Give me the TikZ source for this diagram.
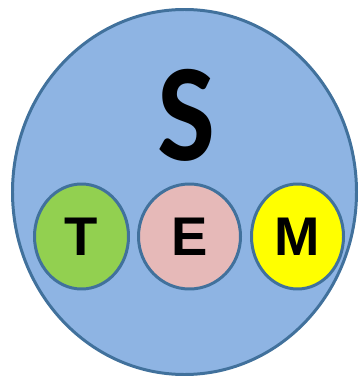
\documentclass[tikz,border=0pt]{standalone}
\usepackage{fontspec}
\newfontfamily\stemfont{Carlito}
\newfontfamily\letterfont{Liberation Sans}
\usetikzlibrary{shapes.geometric}

\definecolor{outerfill}{HTML}{8EB4E3}
\definecolor{rimblue}{HTML}{41719C}
\definecolor{techgreen}{HTML}{92D050}
\definecolor{engpink}{HTML}{E6B9B8}
\definecolor{mathyellow}{HTML}{FFFF00}

\begin{document}
\begin{tikzpicture}[x=0.02cm, y=-0.02cm]
    \useasboundingbox (0,0) rectangle (360,378);

    % Draw nodes
    \node[ellipse, draw=rimblue, line width=1.7pt, fill=outerfill, minimum width=344*0.02cm, minimum height=365*0.02cm] (outer) at (184.5,192) {};
    \node[font=\stemfont\bfseries\fontsize{72}{72}\selectfont, inner sep=0pt] (s) at (186,115) {\scalebox{0.97}[1.1]{S}};

    \node[ellipse, draw=rimblue, line width=1.7pt, fill=techgreen, minimum width=94*0.02cm, minimum height=105*0.02cm, font=\letterfont\bfseries\fontsize{31}{31}\selectfont] (t) at (81.5,236.5) {T};
    \node[ellipse, draw=rimblue, line width=1.7pt, fill=engpink, minimum width=102*0.02cm, minimum height=105*0.02cm, font=\letterfont\bfseries\fontsize{31}{31}\selectfont] (e) at (189.5,236.5) {E};
    \node[ellipse, draw=rimblue, line width=1.7pt, fill=mathyellow, minimum width=92*0.02cm, minimum height=105*0.02cm, font=\letterfont\bfseries\fontsize{31}{31}\selectfont] (m) at (297.5,236.5) {M};
\end{tikzpicture}
\end{document}
